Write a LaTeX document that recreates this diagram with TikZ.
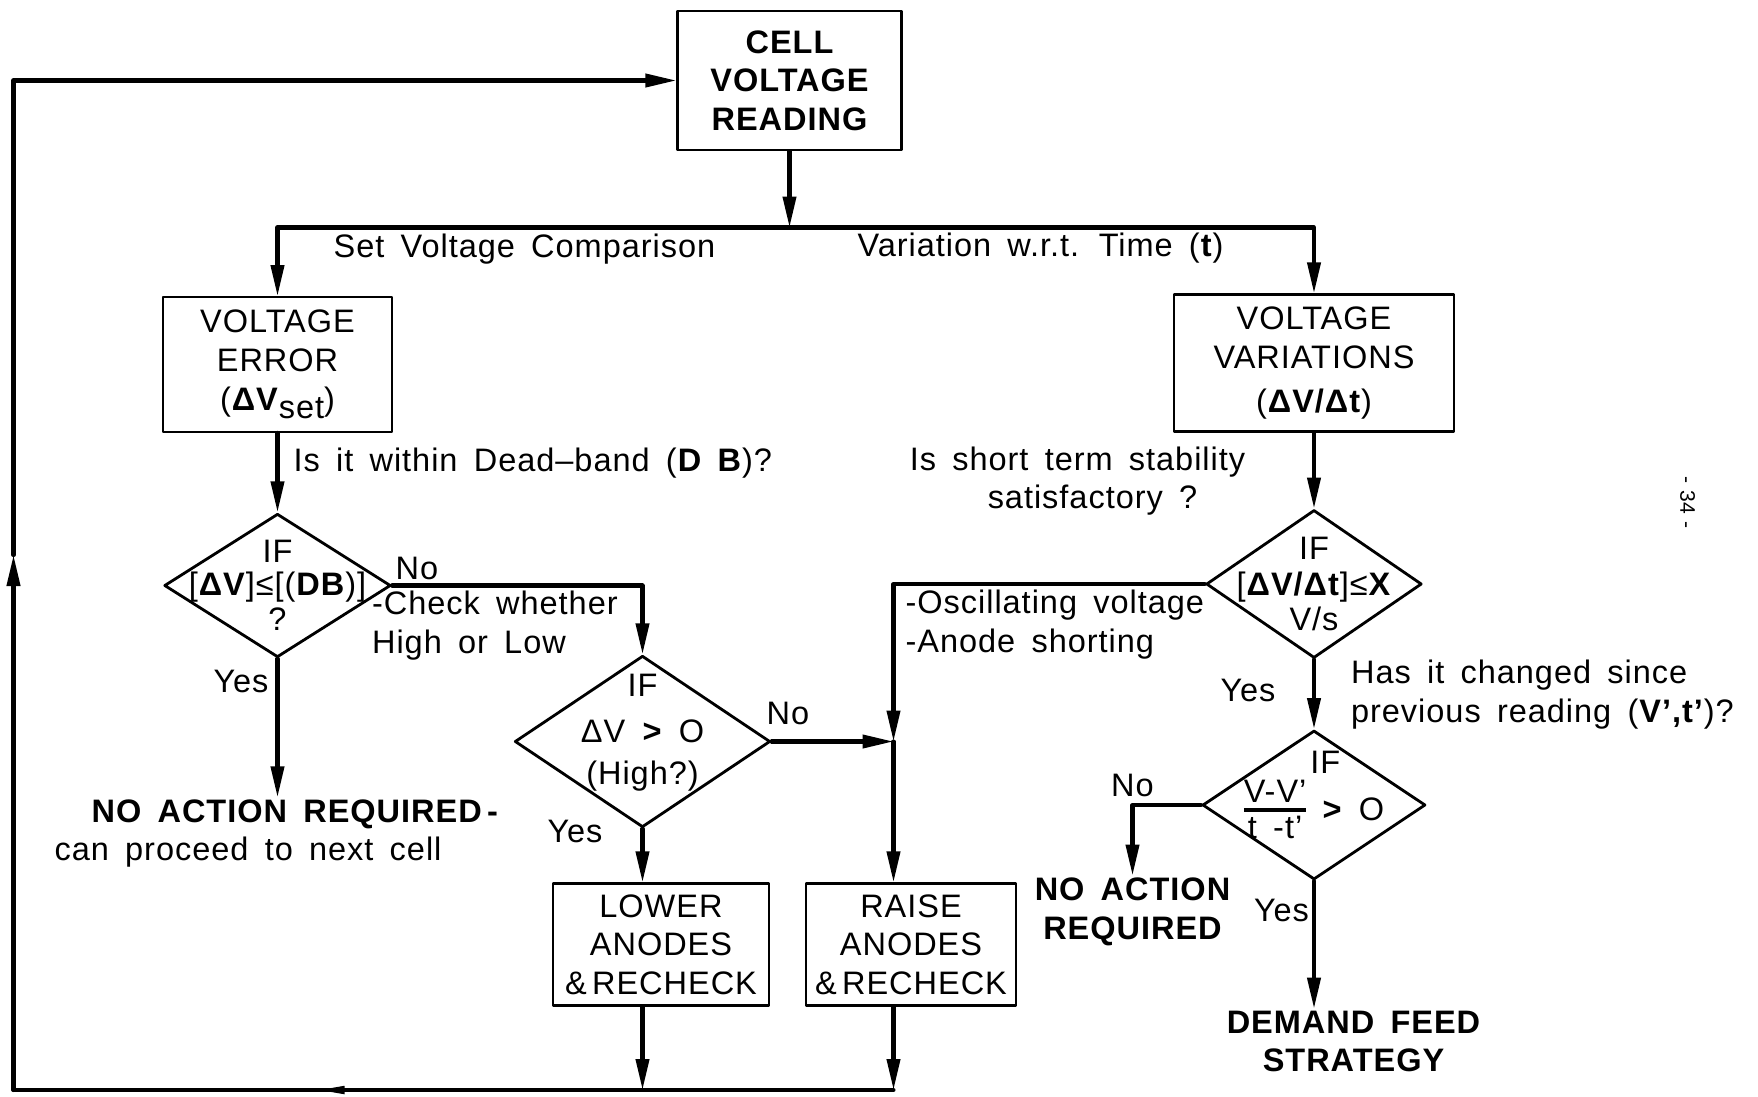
\documentclass[tikz,border=0pt]{standalone}
\usepackage{fontspec}
\setmainfont[LetterSpace=3]{Liberation Sans}
\usetikzlibrary{shapes.geometric, arrows.meta, positioning, calc}

\newcommand{\flowtxt}{\fontsize{18.5}{22}\selectfont\spaceskip=0.5em plus 0.1em\relax}
\newcommand{\stackfrac}[2]{\begin{tabular}[c]{@{}c@{}}#1\\[-3pt]\noalign{\hrule height 1.8pt}#2\end{tabular}}

\begin{document}
\begin{tikzpicture}[line join=round, line cap=round,
    procbox/.style={draw, line width=1.3pt, align=center, font=\flowtxt, inner sep=2pt},
    ifdia/.style={draw, diamond, line width=1.6pt, inner sep=0pt},
    ifdiatext/.style={align=center, font=\flowtxt, inner sep=0pt},
    note/.style={font=\flowtxt, inner sep=1pt},
    bignote/.style={font=\flowtxt\bfseries, align=center, inner sep=1pt},
    flow/.style={line width=2.3pt, -{Triangle[length=0.62cm,width=0.26cm]}},
    wire/.style={line width=2.3pt}]
    \useasboundingbox (0,0) rectangle (35.16,-21.93);

    % boxes
    \node[procbox, font=\flowtxt\bfseries, minimum width=4.48cm, minimum height=2.78cm] (cell) at (15.79,-1.61) {CELL\\VOLTAGE\\READING};
    \node[procbox, minimum width=4.57cm, minimum height=2.69cm] (err) at (5.55,-7.29) {VOLTAGE\\ERROR\\(\textbf{ΔV}\raisebox{-0.5ex}{set})};
    \node[procbox, minimum width=5.61cm, minimum height=2.74cm] (var) at (26.28,-7.26) {VOLTAGE\\VARIATIONS\\[3pt](\textbf{ΔV/Δt})};
    \node[procbox, minimum width=4.33cm, minimum height=2.44cm] (lower) at (13.22,-18.89) {LOWER\\ANODES\\\&\,RECHECK};
    \node[procbox, minimum width=4.19cm, minimum height=2.44cm] (raise) at (18.22,-18.89) {RAISE\\ANODES\\\&\,RECHECK};

    % decisions
    \node[ifdia, minimum width=4.53cm, minimum height=2.87cm] (dA) at (5.55,-11.71) {};
    \node[ifdiatext] (dAt) at (dA) {IF\\[-3pt][\textbf{ΔV}]≤[(\textbf{DB})]\\[-2pt]?};
    \node[ifdia, minimum width=5.11cm, minimum height=3.43cm] (dB) at (12.85,-14.83) {};
    \node[ifdiatext] (dBt) at ([yshift=0.18cm]dB.center) {IF\\[4pt]ΔV \textbf{>} O\\[2pt](High?)};
    \node[ifdia, minimum width=4.31cm, minimum height=2.96cm] (dC) at (26.28,-11.68) {};
    \node[ifdiatext] (dCt) at (dC) {IF\\[-2pt][\textbf{ΔV/Δt}]≤\textbf{X}\\[-2pt]V/s};
    \node[ifdia, minimum width=4.46cm, minimum height=2.98cm] (dD) at (26.28,-16.10) {};
    \node[ifdiatext] (dDt) at ([yshift=0.09cm]dD.center) {\hspace*{0.45cm}IF\\[0pt]\stackfrac{V-V'}{t -t'} \textbf{>} O};

    % ends
    \node[bignote, anchor=west, align=left] (naL) at (1.05,-16.67) {\hspace*{0.74cm}NO ACTION REQUIRED\,-\\\mdseries can proceed to next cell};
    \node[bignote] (naR) at (22.65,-18.23) {NO ACTION\\REQUIRED};
    \node[bignote] (dem) at (27.07,-20.83) {DEMAND FEED\\STRATEGY};

    % path points
    \coordinate (split) at (15.79,-4.55);
    \coordinate (jn) at (17.87,-14.83);
    \coordinate (botR) at (17.87,-21.80);
    \coordinate (botLow) at (12.85,-21.80);
    \coordinate (botMark) at (6.39,-21.80);
    \coordinate (botL) at (0.27,-21.80);
    \coordinate (loopUp) at (0.27,-11.10);
    \coordinate (topL) at (0.27,-1.61);

    % connectors
    \draw[flow] (cell) -- (split);
    \draw[flow] (split) -| (err);
    \draw[flow] (split) -| (var);
    \draw[flow] (err) -- (dA);
    \draw[flow] (var) -- (dC);
    \draw[flow] (dA.east) -| (dB.north);
    \draw[flow] (dA.south) -- (dA.south |- naL.north);
    \draw[flow] (dB.east) -- (jn);
    \draw[flow] (dC.west) -| (jn);
    \draw[flow] (jn) -- (jn |- raise.north);
    \draw[flow] (dB.south) -- (dB.south |- lower.north);
    \draw[flow] (dC) -- (dD);
    \draw[flow] (dD.west) -| (naR.north);
    \draw[flow] (dD.south) -- (dD.south |- dem.north);
    \draw[flow] (dB.south |- lower.south) -- (botLow);
    \draw[flow] (jn |- raise.south) -- (botR);
    \draw[wire] (botR) -- (botL);
    \draw[-{Triangle[length=0.5cm,width=0.16cm]}, line width=1pt] (7.3,-21.80) -- (botMark);
    \draw[flow] (botL) -- (loopUp);
    \draw[flow] (loopUp) -- (topL) -- (cell.west);

    % labels
    \node[note] (setcmp) at (10.49,-4.98) {Set Voltage Comparison};
    \node[note] (varT) at (20.81,-4.96) {Variation w.r.t. Time (\textbf{t})};
    \node[note, anchor=west] (dbq) at (5.83,-9.26) {Is it within Dead--band (\textbf{D B})?};
    \node[note, align=center] (stabq) at (21.55,-9.62) {Is short term stability\\\hspace*{0.6cm}satisfactory ?};
    \node[note] (noA) at (8.34,-11.37) {No};
    \node[note, anchor=west, align=left] (chk) at (7.40,-12.51) {-Check whether\\High or Low};
    \node[note] (yesA) at (4.82,-13.63) {Yes};
    \node[note] (noB) at (15.76,-14.26) {No};
    \node[note] (yesB) at (11.50,-16.62) {Yes};
    \node[note, anchor=west, align=left] (oscn) at (18.07,-12.49) {-Oscillating voltage\\-Anode shorting};
    \node[note] (yesC) at (24.96,-13.81) {Yes};
    \node[note, anchor=west, align=left] (chgq) at (26.98,-13.89) {Has it changed since\\previous reading (\textbf{V',t'})?};
    \node[note] (noD) at (22.65,-15.70) {No};
    \node[note] (yesD) at (25.63,-18.21) {Yes};
    \node[font=\fontsize{12}{14}\selectfont, rotate=-90] (pageno) at (33.75,-10.05) {- 34 -};
\end{tikzpicture}
\end{document}
